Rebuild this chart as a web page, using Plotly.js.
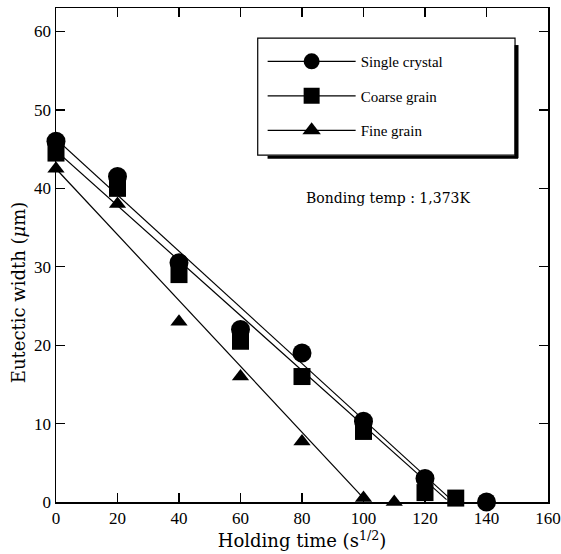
<!DOCTYPE html>
<html>
<head>
<meta charset="utf-8">
<script src="https://cdn.plot.ly/plotly-3.0.1.min.js"></script>
<style>html,body{margin:0;padding:0;background:#fff;}#chart{width:561px;height:554px;}</style>
</head>
<body>
<div id="chart"></div>
<script>
// Data
const seriesNames = ["Single crystal", "Coarse grain", "Fine grain"];
const singleX = [0, 20, 40, 60, 80, 100, 120, 140];
const singleY = [46, 41.5, 30.5, 22, 19, 10.3, 3, 0];
const coarseX = [0, 20, 40, 60, 80, 100, 120, 130];
const coarseY = [44.5, 40, 29, 20.5, 16, 9, 1.2, 0.5];
const fineX = [0, 20, 40, 60, 80, 100, 110];
const fineY = [42.5, 38, 23, 16, 7.7, 0.5, 0];
// Fitted straight lines (end points)
const singleFitX = [0, 128.5];
const singleFitY = [46.3, 0.3];
const coarseFitX = [0, 127];
const coarseFitY = [44.8, 0.3];
const fineFitX = [0, 100];
const fineFitY = [42.5, 0.5];
const xTicks = [0, 20, 40, 60, 80, 100, 120, 140, 160];
const yTicks = [0, 10, 20, 30, 40, 50, 60];

const symbols = ["circle", "square", "triangle-up"];
const sizes = [19, 17, 15];
const serif = "Liberation Serif, DejaVu Serif, serif";
const wideSerif = "DejaVu Serif, Liberation Serif, serif";

const pts = [[singleX, singleY], [coarseX, coarseY], [fineX, fineY]];
const fits = [[singleFitX, singleFitY], [coarseFitX, coarseFitY], [fineFitX, fineFitY]];
const traces = [];
for (let i = 0; i < 3; i++) {
  traces.push({x: fits[i][0], y: fits[i][1], mode: "lines", line: {color: "#000", width: 1.2},
    showlegend: false, hoverinfo: "skip", cliponaxis: false});
  traces.push({x: pts[i][0], y: pts[i][1], mode: "markers", showlegend: false,
    marker: {symbol: symbols[i], size: sizes[i], color: "#000"}, cliponaxis: false});
  traces.push({x: [null], y: [null], mode: "lines+markers", name: seriesNames[i], legendgroup: "g" + i,
    line: {color: "#000", width: 1.2}, marker: {symbol: symbols[i], size: 16, color: "#000"}});
}

const axisCommon = {
  showline: true, linecolor: "#000", linewidth: 1.5, mirror: "ticks", ticks: "inside",
  ticklen: 9, tickwidth: 1.2, tickcolor: "#000", showgrid: false, zeroline: false,
  tickfont: {family: serif, size: 17, color: "#000"}
};

const layout = {
  width: 561, height: 554,
  margin: {l: 56, r: 13, t: 8, b: 52},
  paper_bgcolor: "#fff", plot_bgcolor: "#fff",
  font: {family: serif, color: "#000"},
  xaxis: Object.assign({}, axisCommon, {range: [0, 160], tickvals: xTicks,
    title: {text: "Holding time (s<sup>1/2</sup>)", font: {family: wideSerif, size: 18}, standoff: 1}}),
  yaxis: Object.assign({}, axisCommon, {range: [0, 63], tickvals: yTicks}),
  legend: {x: 0.42, y: 0.925, xanchor: "left", yanchor: "top", bgcolor: "rgba(0,0,0,0)",
    borderwidth: 0, font: {family: serif, size: 15, color: "#000"}, itemwidth: 88,
    tracegroupgap: 12},
  shapes: [
    {type: "rect", xref: "paper", yref: "paper", x0: 0.41, x1: 0.933, y0: 0.702, y1: 0.939,
      line: {color: "#000", width: 1.2}, fillcolor: "#fff", layer: "below"},
    {type: "line", xref: "paper", yref: "paper", x0: 0.936, x1: 0.936, y0: 0.696, y1: 0.925,
      line: {color: "#000", width: 4}},
    {type: "line", xref: "paper", yref: "paper", x0: 0.43, x1: 0.939, y0: 0.698, y1: 0.698,
      line: {color: "#000", width: 3}}
  ],
  annotations: [
    {x: 108, y: 38.8, xref: "x", yref: "y", text: "Bonding temp : 1,373K", showarrow: false,
      font: {family: wideSerif, size: 14, color: "#000"}},
    {x: -0.077, y: 0.425, xref: "paper", yref: "paper", text: "Eutectic width (<i>μ</i>m)",
      textangle: -90, showarrow: false, xanchor: "center", yanchor: "middle",
      font: {family: wideSerif, size: 18, color: "#000"}}
  ]
};

Plotly.newPlot("chart", traces, layout, {displayModeBar: false, staticPlot: true});
</script>
</body>
</html>
